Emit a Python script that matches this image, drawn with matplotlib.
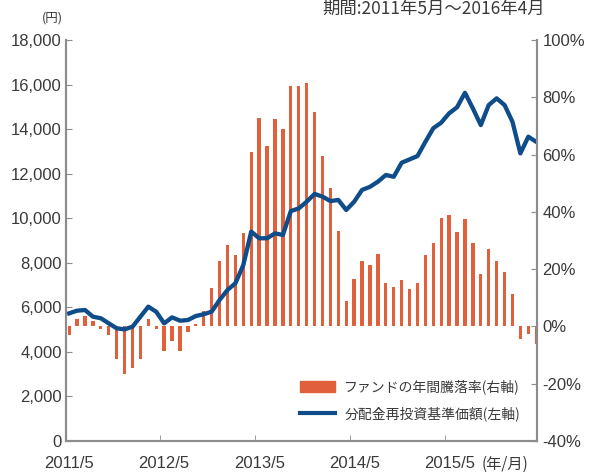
import numpy as np
import matplotlib
matplotlib.use("Agg")
import matplotlib.pyplot as plt
from matplotlib.patches import Patch
from matplotlib.lines import Line2D

# monthly data, 2011/5 .. 2016/4
months = [f"{2011 + (4 + i) // 12}/{(4 + i) % 12 + 1}" for i in range(60)]

# fund annual return (right axis, %)
annual_return = [
    -3, 2.5, 3.5, 2, -1, -3, -11.5, -16.5, -14.5, -11.5, 2.5, -1,
    -8.5, -5, -8.5, -2, 1, 5.3, 13.4, 23, 28.5, 25, 32.5, 61,
    72.7, 63, 72.5, 69, 84, 84, 85, 75, 59.4, 48.4, 33.3, 8.8,
    16.5, 23, 21.4, 25.4, 15, 13.6, 16.2, 13, 15.3, 24.8, 29.2, 38,
    38.8, 33, 37.5, 29.2, 18.2, 27, 23, 19, 11.2, -4.5, -2.7, -6,
]

# NAV with dividends reinvested (left axis, yen)
nav = [
    5730, 5850, 5880, 5580, 5510, 5280, 5060, 5010, 5130, 5580, 6030, 5800,
    5280, 5550, 5400, 5430, 5610, 5690, 5805, 6330, 6780, 7080, 7900, 9400,
    9100, 9100, 9320, 9250, 10320, 10440, 10740, 11090, 10970, 10770, 10820, 10370,
    10740, 11270, 11410, 11640, 11940, 11860, 12490, 12640, 12790, 13430, 14040, 14290,
    14710, 14980, 15630, 14930, 14180, 15080, 15380, 15080, 14330, 12910, 13660, 13430,
]

label_pos = [0, 12, 24, 36, 48]
label_txt = [months[i] for i in label_pos]

bar_color = "#E0603C"
line_color = "#0E4C8A"
spine_color = "#8c8c8c"
text_color = "#3a3a3a"
num_font = ["Liberation Sans Narrow", "Liberation Sans", "DejaVu Sans"]
jp_font = ["Noto Sans CJK JP", "DejaVu Sans"]

fig = plt.figure(figsize=(5.9, 4.75), dpi=100)
ax = fig.add_axes([66 / 590, 1 - 441 / 475, 471 / 590, 401 / 475])
ax2 = ax.twinx()
ax.set_zorder(ax2.get_zorder() + 1)
ax.patch.set_visible(False)

x = np.arange(len(months))
ax2.bar(x, annual_return, width=0.42, color=bar_color)
ax.plot(x, nav, color=line_color, lw=3.1, solid_joinstyle="round")

ax.set_xlim(-0.4, 59.1)
ax.set_ylim(0, 18000)
ax2.set_ylim(-40, 100)

ax.set_yticks(range(0, 18001, 2000))
ax.set_yticklabels([f"{v:,}" for v in range(0, 18001, 2000)])
ax2.set_yticks(range(-40, 101, 20))
ax2.set_yticklabels([f"{v}%" for v in range(-40, 101, 20)])

ax.set_xticks(label_pos)
ax.set_xticklabels(label_txt)
ax.set_xticks([11.5, 23.5, 35.5, 47.5], minor=True)
ax.tick_params(axis="x", which="major", length=0, pad=11)
ax.tick_params(axis="x", which="minor", direction="in", length=4, color=spine_color)
ax.tick_params(axis="y", direction="in", length=4, pad=3, color=spine_color)
ax2.tick_params(axis="y", direction="in", length=4, pad=4, color=spine_color)

for a in (ax, ax2):
    for s in a.spines.values():
        s.set_color(spine_color)
        s.set_linewidth(1.5)
    a.spines["top"].set_visible(False)
    for lbl in a.get_xticklabels() + a.get_yticklabels():
        lbl.set_family(num_font)
        lbl.set_fontsize(12)
        lbl.set_color(text_color)

ax.annotate("(年/月)", xy=(0.932, 0), xycoords="axes fraction",
            xytext=(0, -11), textcoords="offset points", ha="center", va="top",
            family=jp_font, fontsize=11, color=text_color)
fig.text(52 / 590, 1 - 18 / 475, "(円)", ha="center", va="center",
         family=jp_font, fontsize=9, color=text_color)
fig.text(545 / 590, 1 - 9 / 475, "期間:2011年5月～2016年4月", ha="right",
         va="center", family=jp_font, fontsize=12.5, color=text_color)

handles = [Patch(color=bar_color), Line2D([], [], color=line_color, lw=3)]
labels = ["ファンドの年間騰落率(右軸)", "分配金再投資基準価額(左軸)"]
ax.legend(handles, labels, loc="upper left", bbox_to_anchor=(0.47, 0.185),
          frameon=False, handlelength=2.5, handleheight=0.9, labelspacing=0.9,
          handletextpad=0.7, prop={"family": jp_font, "size": 10},
          labelcolor=text_color)

fig.savefig("out.png", dpi=100)
